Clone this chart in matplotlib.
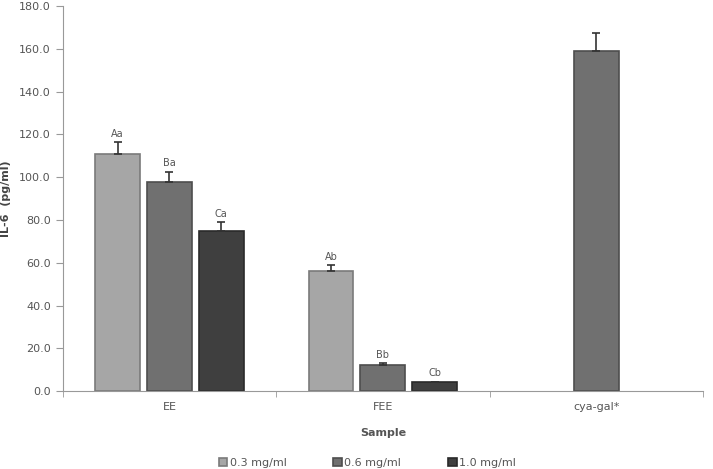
import numpy as np
import matplotlib.pyplot as plt

# Data
samples = ["EE", "FEE", "cya-gal*"]
series = ["0.3 mg/ml", "0.6 mg/ml", "1.0 mg/ml"]
vals_03 = [110.8, 56.0, np.nan]
vals_06 = [98.0, 12.2, 159.0]
vals_10 = [74.8, 4.2, np.nan]
err_03 = [5.8, 2.8, 0]
err_06 = [4.6, 0.8, 8.4]
err_10 = [4.2, 0.3, 0]
lab_03 = ["Aa", "Ab", ""]
lab_06 = ["Ba", "Bb", ""]
lab_10 = ["Ca", "Cb", ""]

colors = ["#a6a6a6", "#707070", "#3f3f3f"]
edges = ["#7a7a7a", "#4e4e4e", "#2a2a2a"]

fig = plt.figure(figsize=(7.13, 4.69), dpi=100)
ax = fig.add_axes([0.088, 0.166, 0.898, 0.821])

x = np.arange(len(samples))
w = 0.21
step = 0.243
for i, (v, e, lab) in enumerate([(vals_03, err_03, lab_03), (vals_06, err_06, lab_06), (vals_10, err_10, lab_10)]):
    pos = x + (i - 1) * step
    v = np.array(v, dtype=float)
    ax.bar(pos, v, w, color=colors[i], edgecolor=edges[i], linewidth=1.2, label=series[i], zorder=2)
    ok = ~np.isnan(v)
    ax.errorbar(pos[ok], v[ok], yerr=[np.zeros(ok.sum()), np.array(e)[ok]], fmt="none",
                ecolor="#333333", elinewidth=1.2, capsize=3, capthick=1.2, zorder=3)
    for p, val, er, t in zip(pos, v, e, lab):
        if t:
            ax.text(p, val + er + 1.5, t, ha="center", va="bottom", fontsize=7, color="#555555")

ax.set_xlim(-0.5, 2.5)
ax.set_ylim(0, 180)
ax.set_yticks(np.arange(0, 181, 20))
ax.set_yticklabels([f"{t:.1f}" for t in np.arange(0, 181, 20)], fontsize=8, color="#555555")
ax.set_xticks(x)
ax.set_xticklabels(samples, fontsize=8, color="#555555")
ax.set_xticks([-0.5, 0.5, 1.5, 2.5], minor=True)
ax.tick_params(axis="x", which="major", length=0, pad=8)
ax.tick_params(axis="x", which="minor", length=4, color="#999999")
ax.tick_params(axis="y", length=5, color="#999999", direction="out")
for s in ["top", "right"]:
    ax.spines[s].set_visible(False)
ax.spines["left"].set_color("#999999")
ax.spines["bottom"].set_color("#999999")

ax.set_xlabel("Sample", fontsize=8, fontweight="bold", color="#555555", labelpad=11)
ax.set_ylabel("IL-6  (pg/ml)", fontsize=8, fontweight="bold", color="#444444", labelpad=6)

fig.legend(loc="lower center", bbox_to_anchor=(0.515, -0.019), ncol=3, frameon=False,
           fontsize=8, handlelength=0.8, handleheight=0.8, handletextpad=0.2,
           columnspacing=4.2, labelcolor="#555555")

plt.savefig("out.png", dpi=100)
